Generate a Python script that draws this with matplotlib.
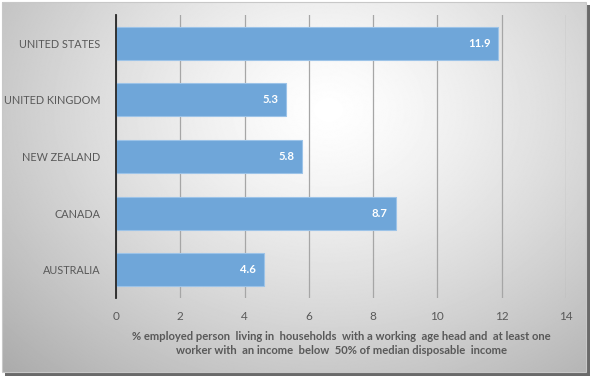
import numpy as np
import matplotlib.pyplot as plt
from matplotlib.patches import Rectangle

countries = ['AUSTRALIA', 'CANADA', 'NEW ZEALAND', 'UNITED KINGDOM', 'UNITED STATES']
values = [4.6, 8.7, 5.8, 5.3, 11.9]
xticks = [0, 2, 4, 6, 8, 10, 12, 14]
xlabel = ('% employed person  living in  households  with a working  age head and  at least one\n'
          'worker with  an income  below  50% of median disposable  income')

plt.rcParams['font.family'] = ['Lato', 'DejaVu Sans']

fig = plt.figure(figsize=(5.91, 3.78), dpi=100)

# background: radial gradient + frame with shadow
bg = fig.add_axes([0, 0, 1, 1], zorder=-10)
bg.set_xlim(0, 591)
bg.set_ylim(378, 0)
bg.axis('off')
yy, xx = np.mgrid[0:378, 0:591]
r = np.sqrt(((xx - 330) / 400.0) ** 2 + ((yy - 110) / 320.0) ** 2)
shade = np.clip(1.0 - 0.27 * r ** 1.3, 0, 1)
bg.imshow(shade, cmap='gray', vmin=0, vmax=1, extent=(2, 586, 372, 2), aspect='auto')
bg.add_patch(Rectangle((586, 5), 4, 371, color='#6a6a6a', lw=0))
bg.add_patch(Rectangle((5, 372), 585, 4, color='#6a6a6a', lw=0))
bg.add_patch(Rectangle((2, 2), 584, 370, fill=False, ec='#c8c8c8', lw=0.8))

ax = fig.add_axes([116 / 591, 1 - 298 / 378, 450 / 591, 283 / 378])
ax.set_facecolor('none')
y = np.arange(len(countries))
bars = ax.barh(y, values, height=0.58, color='#6fa6d9', edgecolor='#9cc3e8', linewidth=0.8, zorder=3)
for b, v in zip(bars, values):
    ax.text(v - 0.25, b.get_y() + b.get_height() / 2, f'{v}', ha='right', va='center',
            color='white', fontsize=8.2, fontweight='bold', zorder=4)

ax.set_xlim(0, 14)
ax.set_ylim(-0.5, len(countries) - 0.5)
ax.set_xticks(xticks)
ax.set_yticks(y)
ax.set_yticklabels(countries)
ax.tick_params(axis='both', length=0, colors='#595959', labelsize=8.5)
ax.tick_params(axis='y', labelsize=7.8, pad=11)
ax.tick_params(axis='x', pad=9)
ax.grid(axis='x', color='#a6a6a6', lw=0.9, zorder=0)
for s in ['top', 'right', 'bottom']:
    ax.spines[s].set_visible(False)
ax.spines['left'].set_color('#262626')
ax.spines['left'].set_linewidth(1.3)
ax.spines['left'].set_zorder(5)
ax.set_xlabel(xlabel, fontsize=8.1, fontweight='bold', color='#595959', labelpad=7, linespacing=1.35)

fig.savefig('out.png', dpi=100)
